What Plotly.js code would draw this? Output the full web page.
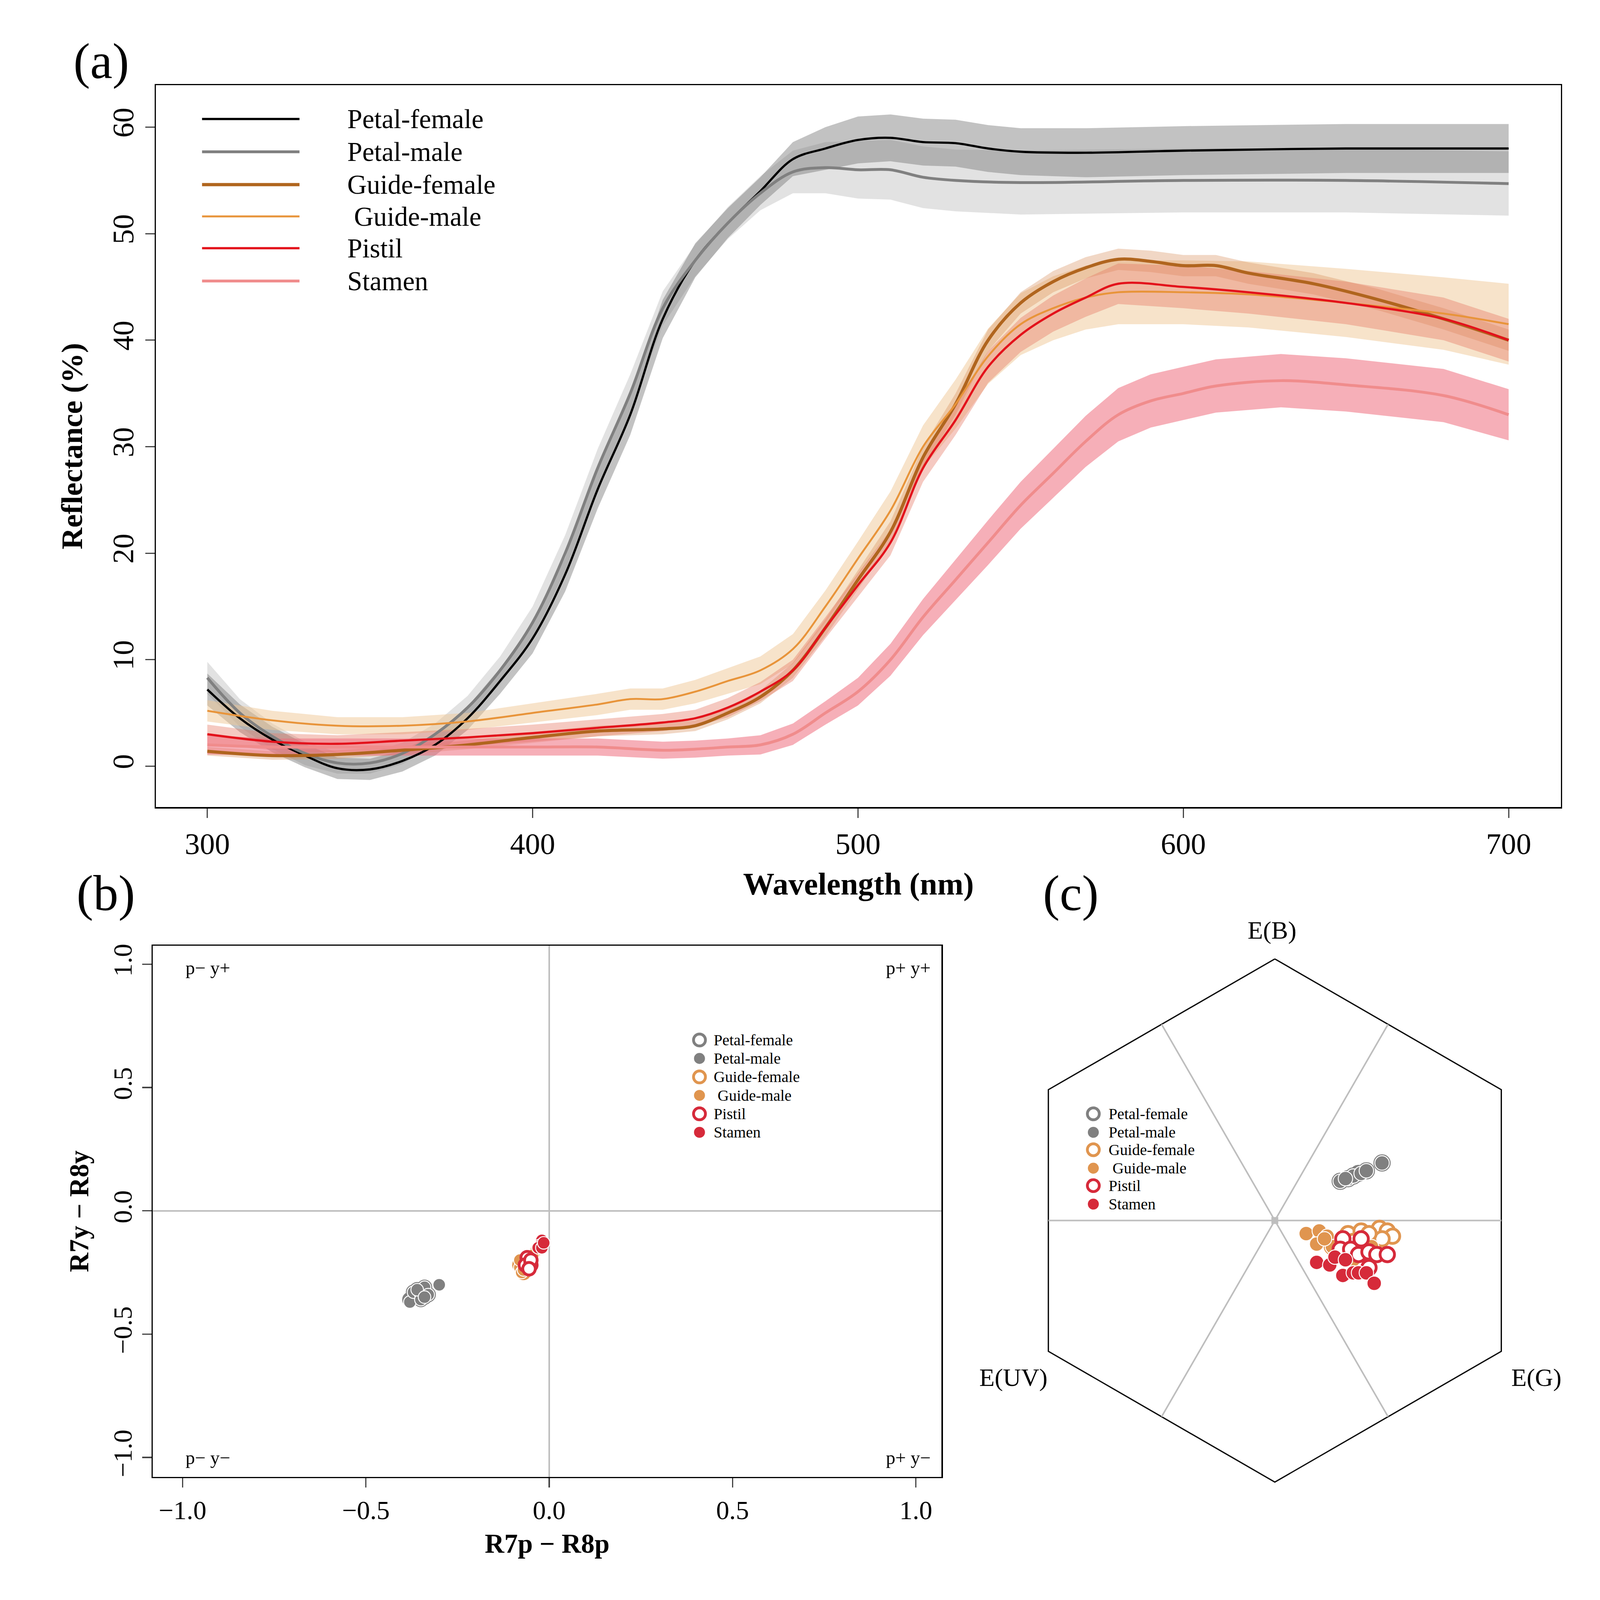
<!DOCTYPE html>
<html><head><meta charset="utf-8">
<script src="https://cdn.plot.ly/plotly-3.0.1.min.js"></script>
<style>html,body{margin:0;padding:0;background:#fff;overflow:hidden}</style>
</head><body><div id="plot"></div>
<script>
// ---------- Panel (a) spectra ----------
const pfWl = [300,310,320,330,340,350,360,370,380,390,400,410,420,430,440,450,460,470,480,490,500,510,520,530,540,550,570,600,650,700];
const pfMean = [7.2,4.5,2.5,1.0,-0.2,-0.3,0.5,2.0,4.5,8.0,12.0,18.0,26.0,33.0,42.0,47.5,51.0,54.0,57.0,58.0,58.8,59.0,58.6,58.5,58.0,57.7,57.6,57.8,58.0,58.0];
const pfSd = [1.5,1.3,1.2,1.1,1.0,1.0,1.0,1.0,1.1,1.2,1.4,1.6,1.8,1.9,1.8,1.6,1.4,1.3,1.6,2.0,2.2,2.2,2.2,2.2,2.2,2.2,2.3,2.3,2.3,2.3];
const pmWl = [300,310,320,330,340,350,360,370,380,390,400,410,420,430,440,450,460,470,480,490,500,510,520,530,550,600,650,700];
const pmMean = [8.3,5.0,2.8,1.2,0.3,0.3,1.2,3.0,5.5,9.0,13.5,20.0,28.0,35.0,43.0,47.5,51.0,53.8,55.8,56.2,56.0,56.0,55.3,55.0,54.8,55.0,55.0,54.7];
const pmSd = [1.5,1.3,1.2,1.1,1.0,1.0,1.0,1.0,1.1,1.3,1.5,1.7,1.8,1.8,1.6,1.5,1.5,1.6,2.0,2.4,2.7,2.8,2.9,2.9,3.0,3.0,3.0,3.0];
const gfWl = [300,320,340,360,380,400,420,440,450,460,470,480,490,500,510,520,530,540,550,560,570,580,590,600,610,620,640,660,680,700];
const gfMean = [1.4,1.0,1.1,1.5,2.0,2.7,3.3,3.5,3.8,5.0,6.5,9.0,13.0,17.5,22.0,29.0,34.0,40.0,43.5,45.5,46.8,47.6,47.4,47.0,47.0,46.3,45.3,43.8,42.0,40.0];
const gfSd = [0.4,0.4,0.4,0.4,0.4,0.5,0.5,0.5,0.5,0.6,0.6,0.7,0.8,0.9,1.0,1.0,1.0,1.0,1.0,1.0,1.0,1.0,1.0,1.0,1.0,1.0,1.0,1.0,1.0,1.0];
const gmWl = [300,320,340,360,380,400,420,430,440,450,460,470,480,490,500,510,520,530,540,550,560,570,580,600,620,650,680,700];
const gmMean = [5.2,4.3,3.8,3.8,4.2,5.0,5.8,6.3,6.3,7.0,8.0,9.0,11.0,15.0,19.5,24.0,30.0,34.0,38.5,41.5,43.0,44.0,44.5,44.5,44.3,43.5,42.5,41.5];
const gmSd = [1.0,0.9,0.8,0.8,0.8,0.9,1.0,1.0,1.0,1.1,1.2,1.3,1.4,1.5,1.6,1.8,2.0,2.3,2.6,2.9,3.0,3.0,3.0,3.0,3.1,3.2,3.4,3.8];
const piWl = [300,320,340,360,380,400,420,440,450,460,470,480,490,500,510,520,530,540,550,560,570,580,600,620,650,680,700];
const piMean = [3.0,2.3,2.1,2.4,2.7,3.1,3.6,4.1,4.5,5.5,7.0,9.0,13.0,17.0,21.0,28.0,32.5,37.5,40.5,42.5,44.0,45.3,45.0,44.5,43.5,42.0,40.0];
const piSd = [0.9,0.8,0.8,0.8,0.8,0.8,0.8,0.8,0.8,0.9,0.9,1.0,1.0,1.1,1.2,1.3,1.4,1.5,1.6,1.7,1.8,1.9,2.0,2.0,2.0,2.0,2.0];
const stWl = [300,320,340,360,380,400,420,440,450,460,470,480,490,500,510,520,530,540,550,560,570,580,590,600,610,630,650,680,700];
const stMean = [2.0,1.8,1.8,1.8,1.8,1.8,1.8,1.5,1.6,1.8,2.0,3.0,5.0,7.0,10.0,14.0,17.5,21.0,24.5,27.5,30.5,33.0,34.3,35.0,35.7,36.2,35.8,34.8,33.0];
const stSd = [0.9,0.8,0.8,0.8,0.8,0.8,0.8,0.8,0.8,0.8,0.9,1.0,1.1,1.3,1.5,1.7,1.9,2.1,2.2,2.3,2.4,2.5,2.5,2.5,2.5,2.5,2.5,2.5,2.4];

const seriesNames = ["Petal-female","Petal-male","Guide-female","Guide-male","Pistil","Stamen"];
const legendTextB = ["Petal-female","Petal-male","Guide-female"," Guide-male","Pistil","Stamen"];
const legendTextA = ["Petal-female","Petal-male","Guide-female"," Guide-male","Pistil","Stamen"];

// ---------- Panel (b) ----------
const bPFx=[-0.38,-0.37,-0.35,-0.34,-0.33,-0.35,-0.36,-0.34];
const bPFy=[-0.36,-0.33,-0.34,-0.31,-0.34,-0.36,-0.32,-0.35];
const bPMx=[-0.38,-0.37,-0.35,-0.34,-0.33,-0.35,-0.30,-0.36,-0.34];
const bPMy=[-0.37,-0.33,-0.34,-0.31,-0.34,-0.36,-0.30,-0.32,-0.35];
const bGFx=[-0.08,-0.07,-0.06,-0.07];
const bGFy=[-0.22,-0.25,-0.20,-0.23];
const bGMx=[-0.08,-0.08,-0.075,-0.04,-0.045,-0.07];
const bGMy=[-0.23,-0.20,-0.25,-0.17,-0.18,-0.24];
const bPIx=[-0.06,-0.065,-0.05,-0.05,-0.055];
const bPIy=[-0.19,-0.22,-0.22,-0.20,-0.235];
const bSTx=[-0.02,-0.025,-0.03,-0.02,-0.015];
const bSTy=[-0.12,-0.14,-0.15,-0.15,-0.13];

// ---------- Panel (c) hexagon ----------
const cPFx=[0.25,0.28,0.32,0.41,0.30,0.35];
const cPFy=[0.15,0.16,0.18,0.22,0.17,0.19];
const cPMx=[0.25,0.28,0.30,0.33,0.35,0.41,0.27];
const cPMy=[0.15,0.16,0.17,0.18,0.19,0.22,0.16];
const cGFx=[0.28,0.33,0.40,0.43,0.45,0.38,0.22,0.30,0.41,0.36];
const cGFy=[-0.05,-0.04,-0.03,-0.04,-0.06,-0.08,-0.10,-0.08,-0.07,-0.05];
const cGMx=[0.12,0.17,0.20,0.16,0.22,0.37,0.26,0.30,0.19];
const cGMy=[-0.05,-0.04,-0.06,-0.09,-0.10,-0.10,-0.14,-0.15,-0.07];
const cPIx=[0.26,0.33,0.25,0.29,0.32,0.36,0.39,0.43,0.36];
const cPIy=[-0.07,-0.07,-0.11,-0.11,-0.13,-0.12,-0.13,-0.13,-0.18];
const cSTx=[0.16,0.21,0.23,0.27,0.26,0.30,0.32,0.35,0.38];
const cSTy=[-0.16,-0.17,-0.14,-0.15,-0.21,-0.20,-0.20,-0.20,-0.24];
const hexLabels=["E(B)","E(G)","E(UV)"];

const W = window.innerWidth || 5102, H = window.innerHeight || 5101;
const k = Math.min(W/5102, H/5101);
const S = v => v*k;
document.getElementById('plot').style.width = W+'px';
document.getElementById('plot').style.height = H+'px';

const FONT="Liberation Serif, Times New Roman, serif";
const traces=[];
function band(wl,m,sd,col){
  const up=m.map((v,i)=>v+sd[i]), lo=m.map((v,i)=>v-sd[i]);
  traces.push({x:wl.concat(wl.slice().reverse()),y:up.concat(lo.slice().reverse()),fill:'toself',fillcolor:col,line:{width:0},mode:'lines',showlegend:false,hoverinfo:'skip',xaxis:'x',yaxis:'y'});
}
band(pmWl,pmMean,pmSd,'rgba(190,190,190,0.45)');
band(pfWl,pfMean,pfSd,'rgba(120,120,120,0.45)');
band(gmWl,gmMean,gmSd,'rgba(240,200,150,0.5)');
band(gfWl,gfMean,gfSd,'rgba(215,140,90,0.35)');
band(piWl,piMean,piSd,'rgba(230,120,100,0.4)');
band(stWl,stMean,stSd,'rgba(238,110,125,0.55)');
const lineCols=['#000000','#808080','#B0651E','#E8943A','#E3121B','#F08C8C'];
const lineW=[7,9,10,6,7,9];
[[pfWl,pfMean],[pmWl,pmMean],[gfWl,gfMean],[gmWl,gmMean],[piWl,piMean],[stWl,stMean]].forEach((d,i)=>{
  traces.push({x:d[0],y:d[1],mode:'lines',line:{color:lineCols[i],width:S(lineW[i]),shape:'spline'},name:seriesNames[i],showlegend:false,xaxis:'x',yaxis:'y'});
});
const ptCols=['#808080','#808080','#E0954F','#E0954F','#D62A3A','#D62A3A'];
const ptOpen=[true,false,true,false,true,false];
function mk(i,sz){return {size:S(sz),color:ptOpen[i]?'#ffffff':ptCols[i],line:{color:ptOpen[i]?ptCols[i]:'#ffffff',width:S(ptOpen[i]?9:3)}};}
function pts(xs,ys,i,ax,sz){
  traces.push({x:xs,y:ys,mode:'markers',name:seriesNames[i],showlegend:false,xaxis:'x'+ax,yaxis:'y'+ax,marker:mk(i,sz)});
}
[[bPFx,bPFy],[bPMx,bPMy],[bGFx,bGFy],[bGMx,bGMy],[bPIx,bPIy],[bSTx,bSTy]].forEach((d,i)=>pts(d[0],d[1],i,'2',40));
const hx=[],hy=[];
for(let j=0;j<=6;j++){const a=Math.PI/2-j*Math.PI/3;hx.push(Math.cos(a));hy.push(Math.sin(a));}
traces.push({x:hx,y:hy,mode:'lines',line:{color:'#000',width:S(4)},showlegend:false,xaxis:'x3',yaxis:'y3',hoverinfo:'skip'});
[0,60,120].forEach(deg=>{const a=deg*Math.PI/180,r=Math.sqrt(3)/2;
  traces.push({x:[-r*Math.cos(a),r*Math.cos(a)],y:[-r*Math.sin(a),r*Math.sin(a)],mode:'lines',line:{color:'#BEBEBE',width:S(5)},showlegend:false,xaxis:'x3',yaxis:'y3',hoverinfo:'skip'});});
traces.push({x:[0],y:[0],mode:'markers',marker:{symbol:'square',size:S(22),color:'#BEBEBE'},showlegend:false,xaxis:'x3',yaxis:'y3',hoverinfo:'skip'});
[[cPFx,cPFy],[cPMx,cPMy],[cGFx,cGFy],[cGMx,cGMy],[cPIx,cPIy],[cSTx,cSTy]].forEach((d,i)=>pts(d[0],d[1],i,'3',46));

const R = 1560;
const annotations=[];
const legA = {x0:197,x1:292,tx:338,rows:[116,148,180,211,242,274],size:86};
legendTextA.forEach((t,i)=>{
  const yy = 1-legA.rows[i]/R;
  traces.push({x:[legA.x0/R,legA.x1/R],y:[yy,yy],mode:'lines',line:{color:lineCols[i],width:S(lineW[i])},showlegend:false,xaxis:'x4',yaxis:'y4',hoverinfo:'skip'});
  annotations.push({text:t,x:legA.tx/R,y:yy,xref:'paper',yref:'paper',xanchor:'left',yanchor:'middle',showarrow:false,font:{family:FONT,size:S(legA.size)}});
});
function ptLegend(mx,tx,rows,sz,fs){
  legendTextB.forEach((t,i)=>{
    const yy=1-rows[i]/R;
    traces.push({x:[mx/R],y:[yy],mode:'markers',marker:mk(i,sz),showlegend:false,xaxis:'x4',yaxis:'y4',hoverinfo:'skip'});
    annotations.push({text:t,x:tx/R,y:yy,xref:'paper',yref:'paper',xanchor:'left',yanchor:'middle',showarrow:false,font:{family:FONT,size:S(fs)}});
  });
}
ptLegend(682,695,[1014,1032,1050,1068,1086,1104],38,50);
ptLegend(1066,1080,[1086,1104,1121,1139,1156,1174],38,50);

const tf={family:FONT,size:S(96),color:'#000'};
const tfb={family:FONT,size:S(84),color:'#000'};
annotations.push(
    {text:'(a)',x:71/R,y:1-32/R,xref:'paper',yref:'paper',showarrow:false,font:{family:FONT,size:S(160)}},
    {text:'(b)',x:74/R,y:1-871/R,xref:'paper',yref:'paper',showarrow:false,font:{family:FONT,size:S(160)}},
    {text:'(c)',x:1072/R,y:1-871/R,xref:'paper',yref:'paper',showarrow:false,font:{family:FONT,size:S(160)}},
    {text:'p− y+',x:-0.93,y:0.985,xref:'x2',yref:'y2',showarrow:false,font:{family:FONT,size:S(60)}},
    {text:'p+ y+',x:0.98,y:0.985,xref:'x2',yref:'y2',showarrow:false,font:{family:FONT,size:S(60)}},
    {text:'p− y−',x:-0.93,y:-1.0,xref:'x2',yref:'y2',showarrow:false,font:{family:FONT,size:S(60)}},
    {text:'p+ y−',x:0.98,y:-1.0,xref:'x2',yref:'y2',showarrow:false,font:{family:FONT,size:S(60)}},
    {text:hexLabels[0],x:-0.01,y:1.11,xref:'x3',yref:'y3',showarrow:false,font:{family:FONT,size:S(80)}},
    {text:hexLabels[1],x:1.0,y:-0.6,xref:'x3',yref:'y3',showarrow:false,font:{family:FONT,size:S(80)}},
    {text:hexLabels[2],x:-1.0,y:-0.6,xref:'x3',yref:'y3',showarrow:false,font:{family:FONT,size:S(80)}}
);
const layout={
  width:W,height:H,margin:{l:0,r:0,t:0,b:0},paper_bgcolor:'#fff',plot_bgcolor:'rgba(0,0,0,0)',font:{family:FONT,color:'#000'},showlegend:false,
  xaxis:{domain:[152/R,1522/R],range:[284.2,716.1],tickvals:[300,400,500,600,700],ticks:'outside',ticklen:S(30),tickwidth:S(4),tickfont:tf,
    showline:true,mirror:true,linecolor:'#000',linewidth:S(4),showgrid:false,zeroline:false,anchor:'y',
    title:{text:'<b>Wavelength (nm)</b>',font:{family:FONT,size:S(100)},standoff:S(40)}},
  yaxis:{domain:[1-787/R,1-83/R],range:[-3.85,63.95],tickvals:[0,10,20,30,40,50,60],ticks:'outside',ticklen:S(30),tickwidth:S(4),tickfont:tf,tickangle:-90,
    showline:true,mirror:true,linecolor:'#000',linewidth:S(4),showgrid:false,zeroline:false,anchor:'x',
    title:{text:'<b>Reflectance (%)</b>',font:{family:FONT,size:S(96)},standoff:S(45)}},
  xaxis2:{domain:[149/R,918/R],range:[-1.081,1.07],tickvals:[-1,-0.5,0,0.5,1],ticktext:['−1.0','−0.5','0.0','0.5','1.0'],ticks:'outside',ticklen:S(30),tickwidth:S(4),tickfont:tfb,
    showline:true,mirror:true,linecolor:'#000',linewidth:S(4),showgrid:false,zeroline:true,zerolinecolor:'#BEBEBE',zerolinewidth:S(5),anchor:'y2',
    title:{text:'<b>R7p − R8p</b>',font:{family:FONT,size:S(86)},standoff:S(30)}},
  yaxis2:{domain:[1-1440/R,1-922/R],range:[-1.079,1.075],tickvals:[-1,-0.5,0,0.5,1],ticktext:['−1.0','−0.5','0.0','0.5','1.0'],ticks:'outside',ticklen:S(30),tickwidth:S(4),tickfont:tfb,tickangle:-90,
    showline:true,mirror:true,linecolor:'#000',linewidth:S(4),showgrid:false,zeroline:true,zerolinecolor:'#BEBEBE',zerolinewidth:S(5),anchor:'x2',
    title:{text:'<b>R7y − R8y</b>',font:{family:FONT,size:S(86)},standoff:S(35)}},
  xaxis3:{domain:[950/R,1540/R],range:[-1.149,1.165],visible:false,anchor:'y3'},
  yaxis3:{domain:[1-1480/R,1-900/R],range:[-1.137,1.137],visible:false,anchor:'x3'},
  xaxis4:{domain:[0,1],range:[0,1],visible:false,anchor:'y4'},
  yaxis4:{domain:[0,1],range:[0,1],visible:false,anchor:'x4'},
  annotations:annotations
};
Plotly.newPlot('plot',traces,layout,{staticPlot:true});
</script></body></html>
